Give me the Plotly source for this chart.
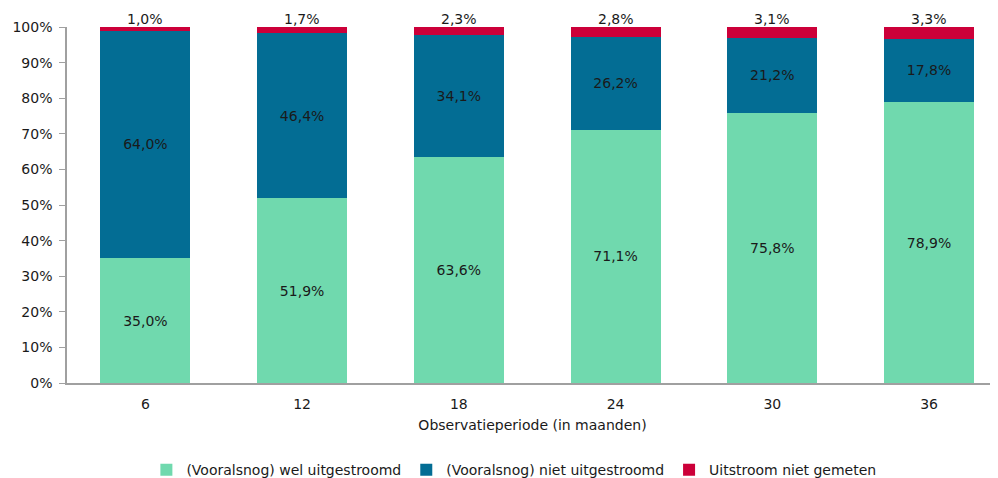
import plotly.graph_objects as go

categories = ["6", "12", "18", "24", "30", "36"]
wel_uitgestroomd = [35.0, 51.9, 63.6, 71.1, 75.8, 78.9]
niet_uitgestroomd = [64.0, 46.4, 34.1, 26.2, 21.2, 17.8]
niet_gemeten = [1.0, 1.7, 2.3, 2.8, 3.1, 3.3]
y_ticks = [0, 10, 20, 30, 40, 50, 60, 70, 80, 90, 100]
y_tick_labels = [f"{t}%" for t in y_ticks]

names = ["(Vooralsnog) wel uitgestroomd", "(Vooralsnog) niet uitgestroomd", "Uitstroom niet gemeten"]
colors = ["#70D9AE", "#036D94", "#CC0039"]

def fmt(v):
    return f"{v:.1f}%".replace(".", ",")

FONT = "DejaVu Sans"
xpos = list(range(len(categories)))

fig = go.Figure()
for i, (vals, name, col) in enumerate(zip([wel_uitgestroomd, niet_uitgestroomd, niet_gemeten], names, colors)):
    fig.add_trace(go.Bar(
        x=xpos, y=vals, name=name,
        marker=dict(color=col, line=dict(width=0)),
        width=0.574,
        text=[fmt(v) for v in vals] if i < 2 else None,
        textposition="inside" if i < 2 else "none",
        insidetextanchor="middle",
        textfont=dict(color="#1a1a1a", size=14, family=FONT),
        hoverinfo="skip",
    ))

for x, v in zip(xpos, niet_gemeten):
    fig.add_annotation(x=x, y=100, text=fmt(v), showarrow=False, yanchor="bottom",
                       yshift=-2, font=dict(color="#1a1a1a", size=14, family=FONT))

# page body has an 8px margin, so the figure is drawn 8px smaller
fig.update_layout(
    barmode="stack",
    width=990, height=470,
    margin=dict(l=59, r=0, t=19, b=95, autoexpand=False),
    plot_bgcolor="white", paper_bgcolor="white",
    font=dict(family=FONT, size=14, color="#1a1a1a"),
    showlegend=True,
    legend=dict(orientation="h", x=0.48, xanchor="center", y=-0.20, yanchor="top",
                font=dict(size=14, family=FONT), itemwidth=30, traceorder="normal"),
    uniformtext=dict(mode="show", minsize=10),
)
fig.update_xaxes(
    tickmode="array", tickvals=xpos, ticktext=categories,
    range=[-0.5, 5.44], showline=True, linecolor="#a0a0a0", linewidth=1.5,
    ticks="", showgrid=False, zeroline=False, automargin=False,
    ticklabelstandoff=7,
    title=dict(text="Observatieperiode (in maanden)", standoff=10, font=dict(size=14, family=FONT)),
    tickfont=dict(size=14, family=FONT),
)
fig.update_yaxes(
    range=[0, 100], tickmode="array", tickvals=y_ticks, ticktext=y_tick_labels,
    showline=True, linecolor="#a0a0a0", linewidth=1.5,
    ticks="outside", ticklen=6, tickcolor="#a0a0a0",
    showgrid=False, zeroline=False, automargin=False,
    ticklabelstandoff=4,
    tickfont=dict(size=14, family=FONT),
)
fig.write_html("out.html")
